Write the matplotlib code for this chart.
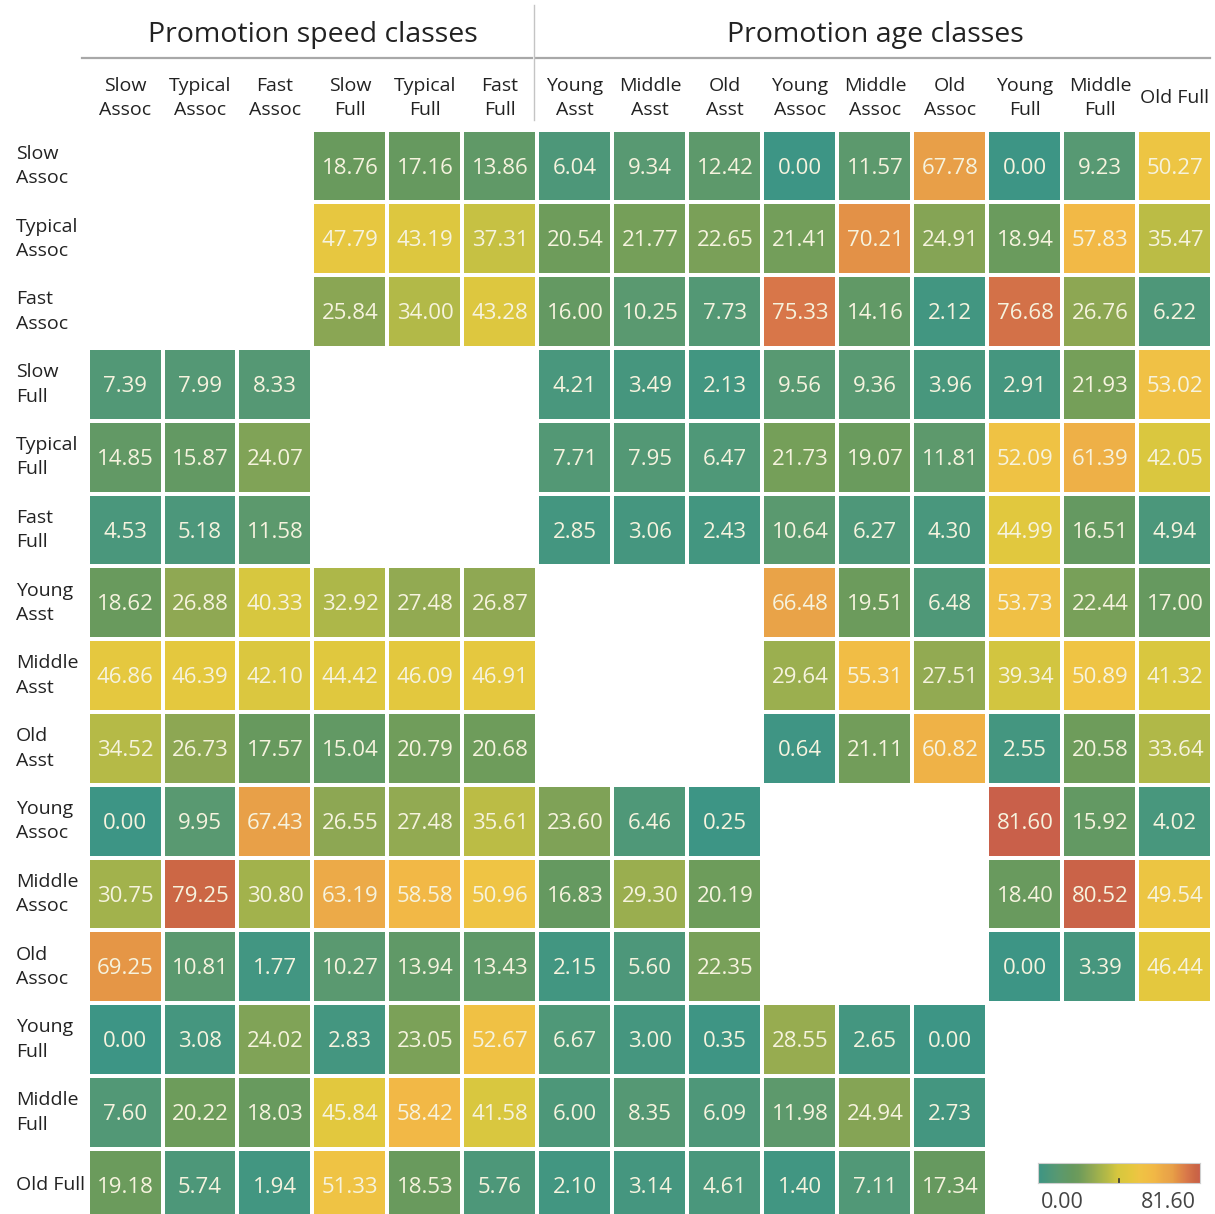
import numpy as np
import matplotlib
matplotlib.use("Agg")
import matplotlib.pyplot as plt
from matplotlib.colors import LinearSegmentedColormap

plt.rcParams['font.family'] = ['Open Sans', 'DejaVu Sans']

labels = ["Slow Assoc", "Typical Assoc", "Fast Assoc", "Slow Full", "Typical Full", "Fast Full",
          "Young Asst", "Middle Asst", "Old Asst", "Young Assoc", "Middle Assoc", "Old Assoc",
          "Young Full", "Middle Full", "Old Full"]
col_labels = ["Slow\nAssoc", "Typical\nAssoc", "Fast\nAssoc", "Slow\nFull", "Typical\nFull", "Fast\nFull",
              "Young\nAsst", "Middle\nAsst", "Old\nAsst", "Young\nAssoc", "Middle\nAssoc", "Old\nAssoc",
              "Young\nFull", "Middle\nFull", "Old Full"]
row_labels = col_labels
group_titles = ["Promotion speed classes", "Promotion age classes"]

N = np.nan
row_slow_assoc = [N, N, N, 18.76, 17.16, 13.86, 6.04, 9.34, 12.42, 0.00, 11.57, 67.78, 0.00, 9.23, 50.27]
row_typical_assoc = [N, N, N, 47.79, 43.19, 37.31, 20.54, 21.77, 22.65, 21.41, 70.21, 24.91, 18.94, 57.83, 35.47]
row_fast_assoc = [N, N, N, 25.84, 34.00, 43.28, 16.00, 10.25, 7.73, 75.33, 14.16, 2.12, 76.68, 26.76, 6.22]
row_slow_full = [7.39, 7.99, 8.33, N, N, N, 4.21, 3.49, 2.13, 9.56, 9.36, 3.96, 2.91, 21.93, 53.02]
row_typical_full = [14.85, 15.87, 24.07, N, N, N, 7.71, 7.95, 6.47, 21.73, 19.07, 11.81, 52.09, 61.39, 42.05]
row_fast_full = [4.53, 5.18, 11.58, N, N, N, 2.85, 3.06, 2.43, 10.64, 6.27, 4.30, 44.99, 16.51, 4.94]
row_young_asst = [18.62, 26.88, 40.33, 32.92, 27.48, 26.87, N, N, N, 66.48, 19.51, 6.48, 53.73, 22.44, 17.00]
row_middle_asst = [46.86, 46.39, 42.10, 44.42, 46.09, 46.91, N, N, N, 29.64, 55.31, 27.51, 39.34, 50.89, 41.32]
row_old_asst = [34.52, 26.73, 17.57, 15.04, 20.79, 20.68, N, N, N, 0.64, 21.11, 60.82, 2.55, 20.58, 33.64]
row_young_assoc = [0.00, 9.95, 67.43, 26.55, 27.48, 35.61, 23.60, 6.46, 0.25, N, N, N, 81.60, 15.92, 4.02]
row_middle_assoc = [30.75, 79.25, 30.80, 63.19, 58.58, 50.96, 16.83, 29.30, 20.19, N, N, N, 18.40, 80.52, 49.54]
row_old_assoc = [69.25, 10.81, 1.77, 10.27, 13.94, 13.43, 2.15, 5.60, 22.35, N, N, N, 0.00, 3.39, 46.44]
row_young_full = [0.00, 3.08, 24.02, 2.83, 23.05, 52.67, 6.67, 3.00, 0.35, 28.55, 2.65, 0.00, N, N, N]
row_middle_full = [7.60, 20.22, 18.03, 45.84, 58.42, 41.58, 6.00, 8.35, 6.09, 11.98, 24.94, 2.73, N, N, N]
row_old_full = [19.18, 5.74, 1.94, 51.33, 18.53, 5.76, 2.10, 3.14, 4.61, 1.40, 7.11, 17.34, N, N, N]

data = np.array([row_slow_assoc, row_typical_assoc, row_fast_assoc, row_slow_full, row_typical_full,
                 row_fast_full, row_young_asst, row_middle_asst, row_old_asst, row_young_assoc,
                 row_middle_assoc, row_old_assoc, row_young_full, row_middle_full, row_old_full])
vmin, vmax = 0.0, 81.60

cmap = LinearSegmentedColormap.from_list("greengold", [
    (0.00, "#3d9585"), (0.12, "#599971"), (0.21, "#66995f"), (0.25, "#6e9c5b"),
    (0.33, "#8fa853"), (0.38, "#a3b34c"), (0.43, "#b8bb46"), (0.49, "#d6c73f"),
    (0.57, "#e4c83e"), (0.625, "#efc444"), (0.72, "#f2b846"), (0.775, "#ecaa48"),
    (0.83, "#e8a048"), (0.85, "#e59646"), (0.92, "#d9784a"), (0.97, "#cc6845"),
    (1.00, "#c9604a")])

W, H = 1215, 1214
fig = plt.figure(figsize=(W / 100, H / 100), dpi=100)

def fx(px):
    return px / W

def fy(py):
    return 1 - py / H

# grid in pixel coords
gx0, gx1 = 87.5, 1212.5
gy0 = 129.6
ch = 72.8
gy1 = gy0 + 15 * ch
ax = fig.add_axes([fx(gx0), fy(gy1), fx(gx1) - fx(gx0), fy(gy0) - fy(gy1)])
masked = np.ma.masked_invalid(data)
ax.pcolormesh(np.arange(16), np.arange(16), masked, cmap=cmap, vmin=vmin, vmax=vmax,
              edgecolors="white", linewidth=2.6)
ax.set_xlim(0, 15)
ax.set_ylim(15, 0)
ax.axis("off")

for i in range(15):
    for j in range(15):
        v = data[i, j]
        if not np.isnan(v):
            ax.text(j + 0.5, i + 0.53, f"{v:.2f}", ha="center", va="center",
                    color="#f6f3de", fontsize=16)

# column labels
cw = (gx1 - gx0) / 15
for j, lab in enumerate(col_labels):
    fig.text(fx(gx0 + cw * (j + 0.5)), fy(98), lab, ha="center", va="center",
             fontsize=14, color="#222222", linespacing=1.45)

# row labels
for i, lab in enumerate(row_labels):
    fig.text(fx(16), fy(gy0 + ch * (i + 0.5)), lab, ha="left", va="center",
             fontsize=14, color="#222222", linespacing=1.45)

# group titles
fig.text(fx((gx0 + gx0 + 6 * cw) / 2), fy(35), group_titles[0], ha="center", va="center",
         fontsize=20.5, color="#222222")
fig.text(fx((gx0 + 6 * cw + gx1) / 2), fy(35), group_titles[1], ha="center", va="center",
         fontsize=20.5, color="#222222")

# separator lines
fig.add_artist(plt.Line2D([fx(82), fx(532)], [fy(58), fy(58)], color="#a8a8a8", lw=1.6))
fig.add_artist(plt.Line2D([fx(536), fx(1210)], [fy(58), fy(58)], color="#a8a8a8", lw=1.6))
fig.add_artist(plt.Line2D([fx(534), fx(534)], [fy(5), fy(120)], color="#c4c4c4", lw=1.0))

# colorbar legend
cax = fig.add_axes([fx(1038), fy(1183), fx(1200) - fx(1038), fy(1163) - fy(1183)])
grad = np.linspace(vmin, vmax, 256).reshape(1, -1)
cax.imshow(grad, aspect="auto", cmap=cmap, vmin=vmin, vmax=vmax, extent=(vmin, vmax, 0, 1))
cax.set_xticks([])
cax.set_yticks([])
for s in cax.spines.values():
    s.set_color("#cfcfcf")
    s.set_linewidth(0.8)
cax.plot([vmax / 2, vmax / 2], [0, 0.18], color="#333333", lw=1.2)
cax.set_xlim(vmin, vmax)
cax.set_ylim(0, 1)
fig.text(fx(1062), fy(1202), f"{vmin:.2f}", ha="center", va="center", fontsize=15.5, color="#444444")
fig.text(fx(1168), fy(1202), f"{vmax:.2f}", ha="center", va="center", fontsize=15.5, color="#444444")

fig.savefig("out.png", dpi=100, facecolor="white")
